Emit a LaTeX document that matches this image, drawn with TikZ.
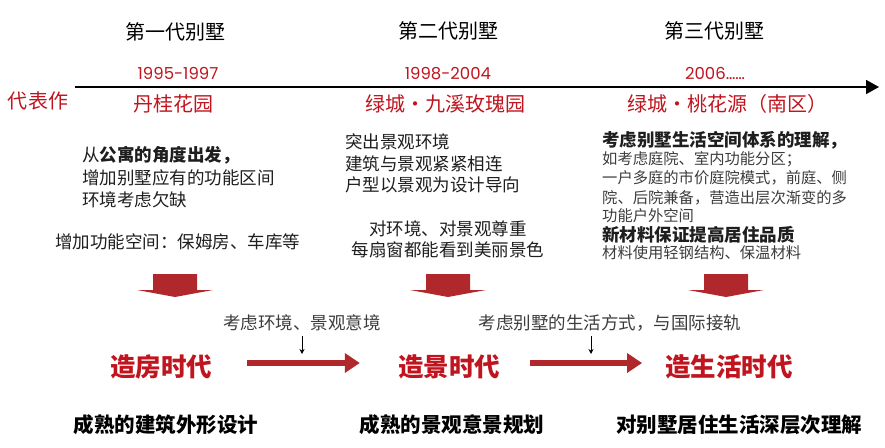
\documentclass[tikz,border=0pt]{standalone}
\usepackage{fontspec}
\setmainfont{Noto Sans CJK SC}
\newfontfamily\numfont{Poppins}
\usetikzlibrary{arrows.meta}
\definecolor{redtxt}{HTML}{C0141E}
\definecolor{blockred}{HTML}{B0282C}
\definecolor{bodytxt}{HTML}{1E1E1E}
\definecolor{graytxt}{HTML}{3C3C3C}
\tikzset{
  title/.style={anchor=base, font=\fontsize{20}{22}\selectfont, text=black, inner sep=0pt},
  yearlbl/.style={anchor=base, font=\numfont\fontsize{16.5}{18}\selectfont, text=redtxt, inner sep=0pt},
  redname/.style={anchor=base, font=\fontsize{20}{22}\selectfont, text=redtxt, inner sep=0pt},
  bodyl/.style={anchor=base west, font=\fontsize{17.5}{20}\selectfont, text=bodytxt, inner sep=0pt},
  bodyc/.style={anchor=base, font=\fontsize{17.5}{20}\selectfont, text=bodytxt, inner sep=0pt},
  smalll/.style={anchor=base west, font=\fontsize{15.3}{18}\selectfont, text=graytxt, inner sep=0pt},
  noteline/.style={anchor=base, font=\fontsize{17.5}{19}\selectfont, text=graytxt, inner sep=0pt},
  eralbl/.style={anchor=base, font=\bfseries\fontsize{25.5}{28}\selectfont, text=redtxt, inner sep=0pt},
  summary/.style={anchor=base, font=\bfseries\fontsize{20.5}{23}\selectfont, text=black, inner sep=0pt},
  timeline/.style={line width=1.8pt, -{Triangle[length=13pt,width=14pt]}},
  flowarrow/.style={draw=blockred, line width=6.5pt, -{Triangle[length=15pt,width=19pt]}},
  noteptr/.style={line width=0.8pt, -{Stealth[length=5pt,width=5pt]}},
  blockshape/.style={fill=blockred, draw=none}
}
\begin{document}
\begin{tikzpicture}[x=1pt,y=-1pt]
\useasboundingbox (0,0) rectangle (885,447);

% titles
\node[title] (t1) at (175,39.6) {第一代别墅};
\node[title] (t2) at (448,38.6) {第二代别墅};
\node[title] (t3) at (714,38.6) {第三代别墅};

% years
\node[yearlbl] (y1) at (178,79) {1995-1997};
\node[yearlbl] (y2) at (448,79) {1998-2004};
\node[yearlbl] (y3) at (715,79) {2006……};

% timeline
\coordinate (tlstart) at (75,87);
\coordinate (tlend) at (879,87);
\draw[timeline] (tlstart) -- (tlend);

% representative projects
\node[redname] (rep) at (38,108.6) {代表作};
\node[redname] (p1) at (173,111) {丹桂花园};
\node[redname] (p2) at (445,111) {绿城·九溪玫瑰园};
\node[redname] (p3) at (727,111) {绿城·桃花源（南区）};

% left body
\node[bodyl] (l1) at (82,161.7) {从\textbf{公寓的角度出发，}};
\node[bodyl] (l2) at (82,184.7) {增加别墅应有的功能区间};
\node[bodyl] (l3) at (82,206.7) {环境考虑欠缺};
\node[bodyl] (l4) at (55,248) {增加功能空间：保姆房、车库等};

% middle body
\node[bodyl] (m1) at (345,148) {突出景观环境};
\node[bodyl] (m2) at (345,170.5) {建筑与景观紧紧相连};
\node[bodyl] (m3) at (345,191.5) {户型以景观为设计导向};
\node[bodyc] (m4) at (448,235) {对环境、对景观尊重};
\node[bodyc] (m5) at (448,256) {每扇窗都能看到美丽景色};

% right body
\node[bodyl, font=\bfseries\fontsize{17.5}{20}\selectfont] (r1) at (602,146) {考虑别墅生活空间体系的理解，};
\node[smalll] (r2) at (602,164) {如考虑庭院、室内功能分区；};
\node[smalll] (r3) at (602,183) {一户多庭的市价庭院模式，前庭、侧};
\node[smalll] (r4) at (602,203) {院、后院兼备，营造出层次渐变的多};
\node[smalll] (r5) at (602,221) {功能户外空间};
\node[bodyl, font=\bfseries\fontsize{17.5}{20}\selectfont] (r6) at (602,241.5) {新材料保证提高居住品质};
\node[smalll] (r7) at (602,258.5) {材料使用轻钢结构、保温材料};

% block arrows
\foreach \cx in {175,448,726}{
  \fill[blockshape] (\cx-22,274) -- (\cx+22,274) -- (\cx+22,290) -- (\cx+38,290)
     -- (\cx,297) -- (\cx-38,290) -- (\cx-22,290) -- cycle;
}

% eras
\node[eralbl] (e1) at (161,376.7) {造房时代};
\node[eralbl] (e2) at (449,376.7) {造景时代};
\node[eralbl] (e3) at (729,376.7) {造生活时代};

\draw[flowarrow, shorten <=35pt, shorten >=38pt] (e1.east |- 0,363) -- (e2.west |- 0,363);
\draw[flowarrow, shorten <=30pt, shorten >=23pt] (e2.east |- 0,363) -- (e3.west |- 0,363);

% notes
\node[noteline] (n1) at (302,329.5) {考虑环境、景观意境};
\node[noteline] (n2) at (610,329.5) {考虑别墅的生活方式，与国际接轨};
\coordinate (n1a) at (302,336);
\coordinate (n1b) at (302,354);
\coordinate (n2a) at (591,336);
\coordinate (n2b) at (591,354);
\draw[noteptr] (n1a) -- (n1b);
\draw[noteptr] (n2a) -- (n2b);

% summaries
\node[summary] (s1) at (166,432.8) {成熟的建筑外形设计};
\node[summary] (s2) at (452,432.8) {成熟的景观意景规划};
\node[summary] (s3) at (739,432.8) {对别墅居住生活深层次理解};
\end{tikzpicture}
\end{document}
